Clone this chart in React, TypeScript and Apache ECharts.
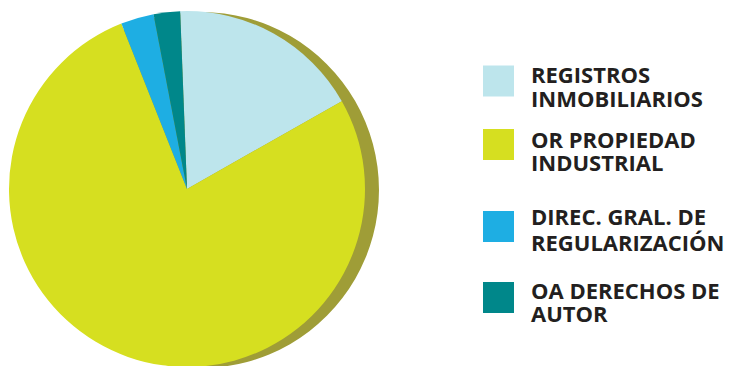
import React, { useEffect, useRef } from "react";
import * as echarts from "echarts";

const categories = [
  "REGISTROS\nINMOBILIARIOS",
  "OR PROPIEDAD\nINDUSTRIAL",
  "DIREC. GRAL. DE\nREGULARIZACIÓN",
  "OA DERECHOS DE\nAUTOR",
];
const values = [17.4, 77.2, 3.0, 2.4];
const colors = ["#bde5ec", "#d6df20", "#1eaee3", "#00878a"];

// legend layout (top, line height, blank spacer height) per item
const legendLayout = [
  { top: 57, lh: 23.5, gap: 10 },
  { top: 120.5, lh: 23.5, gap: 12 },
  { top: 200, lh: 26, gap: 5 },
  { top: 274, lh: 23, gap: 8 },
];

export default function App() {
  const ref = useRef<HTMLDivElement>(null);
  useEffect(() => {
    document.body.style.margin = "0";
    const chart = echarts.init(ref.current!, null, { renderer: "svg" });
    const fontFamily = "'Open Sans', sans-serif";
    chart.setOption({
      animation: false,
      color: colors,
      legend: categories.map((c, i) => ({
        data: [c],
        orient: "vertical",
        left: 483,
        top: legendLayout[i].top,
        itemWidth: 31,
        itemHeight: 31,
        icon: "rect",
        selectedMode: false,
        itemGap: 0,
        padding: 0,
        formatter: (name: string) =>
          "{g| }\n" + name.split("\n").map((s) => `{t|${s}}`).join("\n"),
        textStyle: {
          fontFamily,
          fontSize: 22,
          fontWeight: 700,
          color: "#231f20",
          padding: [0, 0, 0, 12],
          rich: {
            g: { fontSize: 1, lineHeight: legendLayout[i].gap },
            t: {
              fontFamily,
              fontSize: 22,
              fontWeight: 700,
              color: "#231f20",
              lineHeight: legendLayout[i].lh,
            },
          },
        },
      })),
      series: [
        {
          type: "pie",
          name: "shadow",
          center: [201, 190],
          radius: 178,
          silent: true,
          z: 1,
          label: { show: false },
          labelLine: { show: false },
          emphasis: { disabled: true },
          data: [{ value: 1, name: "shadow", itemStyle: { color: "#9f9d37" } }],
        },
        {
          type: "pie",
          center: [187, 189],
          radius: 178,
          startAngle: 92.2,
          clockwise: true,
          silent: true,
          z: 2,
          label: { show: false },
          labelLine: { show: false },
          emphasis: { disabled: true },
          itemStyle: { borderWidth: 0 },
          data: categories.map((c, i) => ({ name: c, value: values[i] })),
        },
      ],
    });
    return () => chart.dispose();
  }, []);
  return <div ref={ref} style={{ width: 745, height: 366 }} />;
}
